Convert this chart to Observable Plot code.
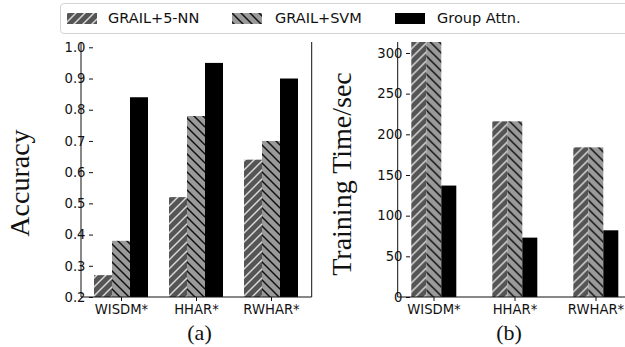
<!DOCTYPE html>
<html>
<head>
<meta charset="utf-8">
<script src="https://cdn.jsdelivr.net/npm/d3@7"></script>
<script src="https://cdn.jsdelivr.net/npm/@observablehq/plot@0.6"></script>
<style>
  html, body { margin: 0; padding: 0; background: #fff; }
  #wrap { position: relative; width: 625px; height: 347px; overflow: hidden; background: #fff; font-family: "DejaVu Sans", sans-serif; color: #222; }
  .chart { position: absolute; top: 0; }
  .chart text { font-size: 13.2px !important; font-family: "DejaVu Sans", sans-serif !important; fill: #111; }
  .legendbox { position: absolute; left: 60px; top: 3px; width: 575px; height: 31px; border: 1px solid #d4d4d4; border-radius: 4px; background: #fff; box-sizing: border-box; z-index: 5; }
  .sw { position: absolute; top: 13px; width: 30px; height: 11px; z-index: 6; }
  .lt { position: absolute; top: 9px; font-size: 14.5px; line-height: 18px; white-space: nowrap; z-index: 6; color: #111; }
  .ytitle { position: absolute; font-family: "Liberation Serif", "Times New Roman", serif; font-size: 28px; white-space: nowrap; transform: translate(-50%, -50%) rotate(-90deg); color: #111; z-index: 4; }
  .cap { position: absolute; font-family: "Liberation Serif", "Times New Roman", serif; font-size: 22px; white-space: nowrap; transform: translate(-50%, -50%); color: #111; }
</style>
</head>
<body>
<svg width="0" height="0" style="position:absolute">
  <defs>
    <pattern id="hatchA" patternUnits="userSpaceOnUse" width="9" height="9">
      <rect width="9" height="9" fill="#555"></rect>
      <path d="M-1,1 l2,-2 M0,9 l9,-9 M8,10 l2,-2" stroke="#d8d8d8" stroke-width="1.5"></path>
    </pattern>
    <pattern id="hatchB" patternUnits="userSpaceOnUse" width="9" height="9">
      <rect width="9" height="9" fill="#9a9a9a"></rect>
      <path d="M-1,8 l2,2 M0,0 l9,9 M8,-1 l2,2" stroke="#111" stroke-width="1.5"></path>
    </pattern>
  </defs>
</svg>
<div id="wrap"></div>
<script>
// ---- data ----
const datasets = ["WISDM*", "HHAR*", "RWHAR*"];
const methods = ["GRAIL+5-NN", "GRAIL+SVM", "Group Attn."];
const accuracy5NN = [0.27, 0.52, 0.64];
const accuracySVM = [0.38, 0.78, 0.70];
const accuracyGA  = [0.84, 0.95, 0.90];
const time5NN = [330, 216, 184];
const timeSVM = [330, 216, 184];
const timeGA  = [137, 73, 82];
const accTicks = [0.2, 0.3, 0.4, 0.5, 0.6, 0.7, 0.8, 0.9, 1.0];
const timeTicks = [0, 50, 100, 150, 200, 250, 300];
const yTitles = ["Accuracy", "Training Time/sec"];
const captions = ["(a)", "(b)"];
const methodFills = ["url(#hatchA)", "url(#hatchB)", "#000"];

function rows(a, b, c) {
  return datasets.flatMap((d, i) => [
    {dataset: d, method: methods[0], value: a[i]},
    {dataset: d, method: methods[1], value: b[i]},
    {dataset: d, method: methods[2], value: c[i]}
  ]);
}

const wrap = document.getElementById("wrap");

function makeChart(data, opts) {
  const W = opts.width, H = 347, mt = 42, mb = 50, ml = opts.ml, mr = opts.mr;
  const chart = Plot.plot({
    width: W, height: H,
    marginLeft: ml, marginRight: mr, marginTop: mt, marginBottom: mb,
    style: {fontFamily: "'DejaVu Sans', sans-serif", fontSize: "13.2px", color: "#111", background: "transparent", overflow: "visible"},
    fx: {domain: datasets, paddingInner: opts.pi, paddingOuter: opts.po, label: null},
    x: {domain: methods, padding: 0, axis: null},
    y: {domain: opts.domain, axis: null},
    color: {domain: methods, range: methodFills},
    marks: [
      Plot.barY(data, {fx: "dataset", x: "method", y: "value", fill: "method", clip: true}),
      Plot.axisY({ticks: opts.ticks, tickFormat: opts.fmt, tickSize: 4, tickPadding: 4, label: null}),
      Plot.axisFx({anchor: "bottom", tickSize: 4, tickPadding: 3, label: null})
    ]
  });
  const svg = d3.select(chart);
  const g = svg.append("g").attr("stroke", "#111").attr("stroke-width", 1);
  g.append("line").attr("x1", ml).attr("x2", ml).attr("y1", mt).attr("y2", H - mb);
  g.append("line").attr("x1", ml).attr("x2", W - mr).attr("y1", H - mb).attr("y2", H - mb);
  if (opts.rightSpine) g.append("line").attr("x1", W - mr).attr("x2", W - mr).attr("y1", mt).attr("y2", H - mb);
  chart.classList.add("chart");
  chart.style.left = opts.left + "px";
  wrap.appendChild(chart);
}

makeChart(rows(accuracy5NN, accuracySVM, accuracyGA), {
  width: 313, left: 0, ml: 81, mr: 1.3, pi: 0.254, po: 0.15,
  domain: [0.2, 1.017], ticks: accTicks, fmt: d => d.toFixed(1), rightSpine: true
});
makeChart(rows(time5NN, timeSVM, timeGA), {
  width: 320, left: 313, ml: 84.7, mr: 3, pi: 0.425, po: 0.134,
  domain: [0, 313.5], ticks: timeTicks, fmt: d => String(d), rightSpine: true
});

// axis titles and captions
[[20, 183], [341.7, 174]].forEach(([x, y], i) => {
  const d = document.createElement("div");
  d.className = "ytitle"; d.textContent = yTitles[i];
  d.style.left = x + "px"; d.style.top = y + "px";
  wrap.appendChild(d);
});
[[199.5, 333], [509, 333]].forEach(([x, y], i) => {
  const d = document.createElement("div");
  d.className = "cap"; d.textContent = captions[i];
  d.style.left = x + "px"; d.style.top = y + "px";
  wrap.appendChild(d);
});

// legend
const box = document.createElement("div");
box.className = "legendbox";
wrap.appendChild(box);
const swX = [67, 232, 395], txX = [108, 275, 437];
methods.forEach((m, i) => {
  const ns = "http://www.w3.org/2000/svg";
  const s = document.createElementNS(ns, "svg");
  s.setAttribute("class", "sw");
  s.setAttribute("width", 30); s.setAttribute("height", 11);
  s.style.left = swX[i] + "px";
  const r = document.createElementNS(ns, "rect");
  r.setAttribute("width", 30); r.setAttribute("height", 11);
  r.setAttribute("fill", methodFills[i]);
  s.appendChild(r);
  wrap.appendChild(s);
  const t = document.createElement("div");
  t.className = "lt"; t.textContent = m;
  t.style.left = txX[i] + "px";
  wrap.appendChild(t);
});
</script>
</body>
</html>
